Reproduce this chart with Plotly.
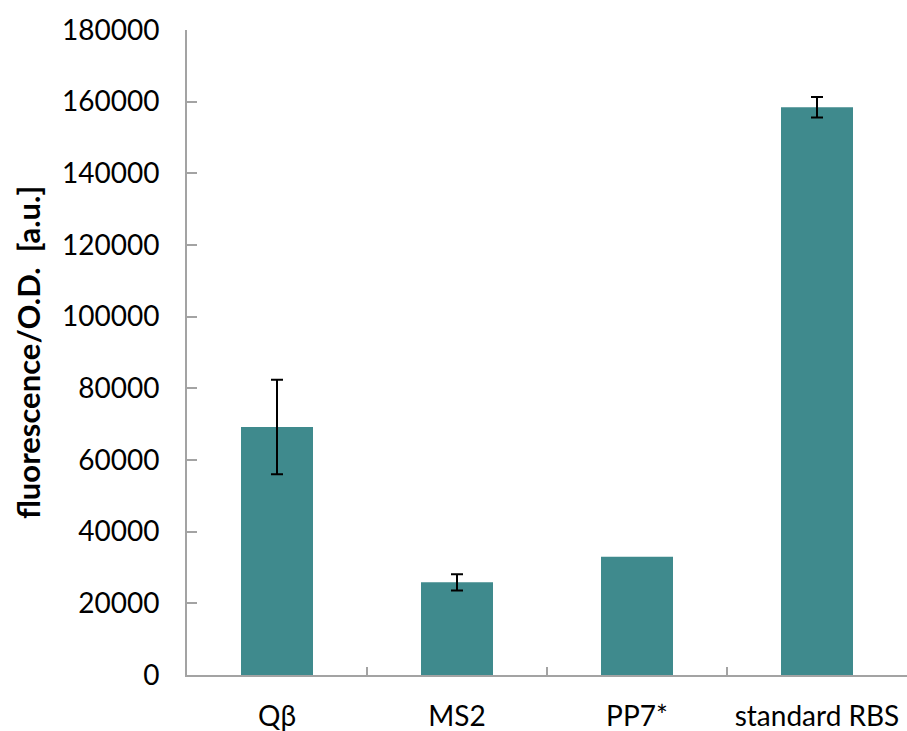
import plotly.graph_objects as go

# Reporter fluorescence per construct
categories = ["Qβ", "MS2", "PP7*", "standard RBS"]
fluorescence = [69200, 25850, 33000, 158450]
# Standard deviation; PP7* has no replicate spread
error = [13200, 2300, None, 2850]
y_ticks = [0, 20000, 40000, 60000, 80000, 100000, 120000, 140000, 160000, 180000]

bar_color = "#3F8A8D"
axis_color = "#A3A3A3"
font_family = "Lato, 'Open Sans', sans-serif"

fig = go.Figure(
    go.Bar(
        x=categories,
        y=fluorescence,
        marker=dict(color=bar_color, line=dict(width=0)),
        width=0.4,
        hoverinfo="x+y",
    )
)

# Error bars only where a spread was measured
err_x = [c for c, e in zip(categories, error) if e is not None]
err_y = [v for v, e in zip(fluorescence, error) if e is not None]
err_v = [e for e in error if e is not None]
fig.add_trace(
    go.Scatter(
        x=err_x,
        y=err_y,
        mode="markers",
        marker=dict(size=0.1, opacity=0),
        error_y=dict(
            type="data",
            array=err_v,
            visible=True,
            color="black",
            thickness=2,
            width=6,
        ),
        hoverinfo="skip",
    )
)

fig.update_layout(
    width=907,
    height=731,
    margin=dict(l=187, r=0, t=30, b=56),
    paper_bgcolor="white",
    plot_bgcolor="white",
    showlegend=False,
    font=dict(family=font_family, color="black"),
)

fig.update_xaxes(
    categoryorder="array",
    categoryarray=categories,
    range=[-0.5, 3.5],
    automargin=False,
    showline=True,
    linecolor=axis_color,
    linewidth=2,
    ticks="inside",
    tickson="boundaries",
    ticklen=8,
    tickwidth=1.5,
    tickcolor=axis_color,
    tickfont=dict(size=28, family=font_family),
    ticklabelstandoff=15,
    showgrid=False,
    zeroline=False,
)

fig.update_yaxes(
    range=[0, 180000],
    automargin=False,
    tickvals=y_ticks,
    ticktext=[str(v) for v in y_ticks],
    showline=True,
    linecolor=axis_color,
    linewidth=2,
    ticks="inside",
    ticklen=10,
    tickwidth=2,
    tickcolor=axis_color,
    tickfont=dict(size=28, family=font_family),
    ticklabelstandoff=20,
    showgrid=False,
    zeroline=False,
    title=dict(
        text="<b>fluorescence/O.D.  [a.u.]</b>",
        font=dict(size=31, family=font_family),
        standoff=12,
    ),
)

fig.write_html("out.html")
